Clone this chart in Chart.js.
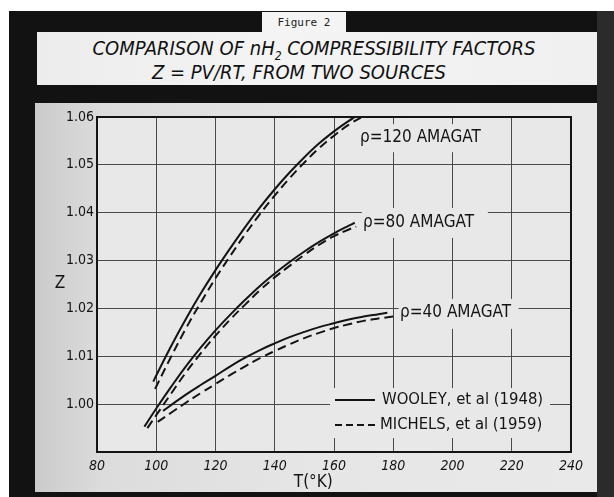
<!DOCTYPE html>
<html lang="en">
<head>
    <meta charset="UTF-8">
    <title>Comparison of nH2 Compressibility Factors</title>
    <script src="https://cdn.jsdelivr.net/npm/chart.js"></script>
    <style>
        body { margin: 0; background: #fff; width: 614px; height: 497px; overflow: hidden; position: relative; }
        #frame { position: absolute; left: 9px; top: 11px; width: 605px; height: 486px; background: #121212; }
        #rightEdge { position: absolute; left: 597px; top: 11px; width: 17px; height: 486px; background: #2b2b2b; }
        #tab { position: absolute; left: 262px; top: 12px; width: 84px; height: 22px; background: #f4f4f4;
               font: 11px "DejaVu Sans Mono", "Liberation Mono", monospace; color: #222; text-align: center; line-height: 22px; }
        #titleBox { position: absolute; left: 37px; top: 32px; width: 560px; height: 53px;
                    background: linear-gradient(90deg, #ececec, #f4f4f4 40%, #f0f0f0); }
        .tline { position: absolute; left: 0; width: 560px; text-align: center; white-space: nowrap;
                 font: italic 20px "DejaVu Sans Condensed", "Liberation Sans", sans-serif; color: #111; }
        .tline sub { font-size: 12px; }
        #panel { position: absolute; left: 35px; top: 103px; width: 562px; height: 389px;
                 background: linear-gradient(90deg, #cbcbcb, #dcdcdc 12%, #e6e6e6 50%, #e9e9e9); }
        canvas { position: absolute; left: 0; top: 0; }
    </style>
</head>
<body>
    <div id="frame"></div>
    <div id="rightEdge"></div>
    <div id="tab">Figure 2</div>
    <div id="titleBox">
        <div class="tline" style="top: 4px; margin-left: -3px;">COMPARISON OF nH<sub>2</sub> COMPRESSIBILITY FACTORS</div>
        <div class="tline" style="top: 28px; margin-left: -18px;">Z = PV/RT, FROM TWO SOURCES</div>
    </div>
    <div id="panel">
        <canvas id="zChart" width="562" height="389"></canvas>
    </div>

    <script>
        // temperatures (K) and compressibility factors
        const wooley120T  = [99.0, 100, 105, 110, 115, 120, 125, 130, 135, 140, 145, 150, 155, 160, 165, 167.5];
        const wooley120Z  = [1.0047, 1.0060, 1.0121, 1.0178, 1.0231, 1.0280, 1.0326, 1.0370, 1.0411, 1.0449,
                             1.0484, 1.0516, 1.0545, 1.0570, 1.0592, 1.0602];
        const michels120T = [99.6, 100, 105, 110, 115, 120, 125, 130, 135, 140, 145, 150, 155, 160, 165, 170];
        const michels120Z = [1.0032, 1.0037, 1.0099, 1.0158, 1.0212, 1.0263, 1.0310, 1.0355, 1.0397, 1.0436,
                             1.0472, 1.0505, 1.0535, 1.0561, 1.0584, 1.0602];

        const wooley80T  = [96, 100, 105, 110, 115, 120, 125, 130, 135, 140, 145, 150, 155, 160, 165, 167];
        const wooley80Z  = [0.9953, 0.9991, 1.0036, 1.0079, 1.0118, 1.0154, 1.0187, 1.0218, 1.0247, 1.0273,
                            1.0297, 1.0319, 1.0339, 1.0357, 1.0373, 1.0379];
        const michels80T = [97, 100, 105, 110, 115, 120, 125, 130, 135, 140, 145, 150, 155, 160, 165, 167.5];
        const michels80Z = [0.9950, 0.9977, 1.0022, 1.0066, 1.0106, 1.0143, 1.0177, 1.0208, 1.0238, 1.0265,
                            1.0289, 1.0312, 1.0333, 1.0351, 1.0365, 1.0371];

        const wooley40T  = [102.3, 105, 110, 115, 120, 125, 130, 135, 140, 145, 150, 155, 160, 165, 170, 175, 178];
        const wooley40Z  = [0.9986, 0.9998, 1.0020, 1.0040, 1.0059, 1.0079, 1.0097, 1.0113, 1.0127, 1.0140,
                            1.0151, 1.0161, 1.0169, 1.0177, 1.0183, 1.0188, 1.0191];
        const michels40T = [100.5, 105, 110, 115, 120, 125, 130, 135, 140, 145, 150, 155, 160, 165, 170, 175, 181.3];
        const michels40Z = [0.9963, 0.9982, 1.0003, 1.0023, 1.0042, 1.0061, 1.0079, 1.0096, 1.0111, 1.0125,
                            1.0138, 1.0149, 1.0159, 1.0167, 1.0174, 1.0179, 1.0184];

        const curveLabels = ['\u03C1=120 AMAGAT', '\u03C1=80 AMAGAT', '\u03C1=40 AMAGAT'];
        const legendLabels = ['WOOLEY, et al (1948)', 'MICHELS, et al (1959)'];

        const ink = '#141414';
        const paper = '#e8e8e8';
        const handFont = '"DejaVu Sans Condensed", "Liberation Sans Narrow", "DejaVu Sans", sans-serif';

        function pts(ts, zs) {
            return ts.map((t, i) => ({ x: t, y: zs[i] }));
        }

        function curve(label, ts, zs, dashed) {
            return {
                label: label,
                data: pts(ts, zs),
                borderColor: ink,
                borderWidth: 2,
                borderDash: dashed ? [9, 5] : [],
                pointRadius: 0,
                fill: false,
                tension: 0.4
            };
        }

        const paperPlugin = {
            id: 'paper',
            beforeDraw(chart) {
                const { ctx, chartArea: a } = chart;
                ctx.save();
                ctx.fillStyle = paper;
                ctx.fillRect(a.left, a.top, a.right - a.left, a.bottom - a.top);
                ctx.restore();
            },
            beforeDatasetsDraw(chart) {
                // blank out grid behind lettering
                const { ctx, chartArea: a } = chart;
                const x = chart.scales.x, y = chart.scales.y;
                ctx.save();
                ctx.fillStyle = paper;
                ctx.fillRect(x.getPixelForValue(168.6), y.getPixelForValue(1.0585), 126, 28);
                ctx.fillRect(x.getPixelForValue(169.4), y.getPixelForValue(1.0410), 126, 30);
                ctx.fillRect(x.getPixelForValue(181.8), y.getPixelForValue(1.0220), 120, 30);
                ctx.fillRect(a.left + 233, a.top + 271, 220, 50);
                ctx.restore();
            },
            afterDraw(chart) {
                const { ctx, chartArea: a } = chart;
                const x = chart.scales.x, y = chart.scales.y;
                ctx.save();
                ctx.fillStyle = ink;
                ctx.textBaseline = 'middle';
                ctx.font = '17px ' + handFont;
                ctx.fillText(curveLabels[0], x.getPixelForValue(168.8), y.getPixelForValue(1.0557));
                ctx.fillText(curveLabels[1], x.getPixelForValue(169.8), y.getPixelForValue(1.0380));
                ctx.fillText(curveLabels[2], x.getPixelForValue(182.3), y.getPixelForValue(1.0191));

                // legend
                ctx.strokeStyle = ink;
                ctx.lineWidth = 2;
                const lx = a.left + 238, ly1 = a.top + 283, ly2 = a.top + 308;
                ctx.beginPath(); ctx.moveTo(lx, ly1); ctx.lineTo(lx + 40, ly1); ctx.stroke();
                ctx.setLineDash([7, 4]);
                ctx.beginPath(); ctx.moveTo(lx, ly2); ctx.lineTo(lx + 42, ly2); ctx.stroke();
                ctx.setLineDash([]);
                ctx.font = '16.5px ' + handFont;
                ctx.fillText(legendLabels[0], lx + 47, ly1);
                ctx.fillText(legendLabels[1], lx + 45, ly2);

                // axis titles
                ctx.textAlign = 'center';
                ctx.font = '17px ' + handFont;
                ctx.fillText('Z', a.left - 37, (a.top + a.bottom) / 2 - 1);
                ctx.fillText('T(\u00B0K)', x.getPixelForValue(153), a.bottom + 31);
                ctx.restore();
            }
        };

        function createChart() {
            const ctx = document.getElementById('zChart').getContext('2d');

            new Chart(ctx, {
                type: 'line',
                data: {
                    datasets: [
                        curve('Wooley 120', wooley120T, wooley120Z, false),
                        curve('Michels 120', michels120T, michels120Z, true),
                        curve('Wooley 80', wooley80T, wooley80Z, false),
                        curve('Michels 80', michels80T, michels80Z, true),
                        curve('Wooley 40', wooley40T, wooley40Z, false),
                        curve('Michels 40', michels40T, michels40Z, true)
                    ]
                },
                options: {
                    responsive: false,
                    animation: false,
                    layout: { padding: { top: 14, right: 26, left: 0, bottom: 0 } },
                    scales: {
                        x: {
                            type: 'linear',
                            min: 80,
                            max: 240,
                            afterFit: s => { s.height = 40; },
                            ticks: {
                                stepSize: 20,
                                color: ink,
                                padding: 6,
                                maxRotation: 0,
                                font: { family: handFont, size: 14, style: 'italic' }
                            },
                            grid: { color: '#4a4a4a', lineWidth: 1, drawTicks: false },
                            border: { color: ink, width: 2 }
                        },
                        y: {
                            min: 0.99,
                            max: 1.06,
                            afterFit: s => { s.width = 62; },
                            ticks: {
                                stepSize: 0.01,
                                color: ink,
                                padding: 3,
                                font: { family: handFont, size: 14 },
                                callback: v => (v < 0.995 ? '' : v.toFixed(2))
                            },
                            grid: { color: '#4a4a4a', lineWidth: 1, drawTicks: false },
                            border: { color: ink, width: 2 }
                        },
                        x2: {
                            type: 'linear', position: 'top', min: 80, max: 240,
                            afterFit: s => { s.height = 0; },
                            ticks: { display: false }, grid: { display: false },
                            border: { color: ink, width: 2 }
                        },
                        y2: {
                            type: 'linear', position: 'right', min: 0.99, max: 1.06,
                            afterFit: s => { s.width = 0; },
                            ticks: { display: false }, grid: { display: false },
                            border: { color: ink, width: 2 }
                        }
                    },
                    plugins: {
                        legend: { display: false },
                        title: { display: false },
                        tooltip: { enabled: false }
                    }
                },
                plugins: [paperPlugin]
            });
        }

        window.onload = createChart;
    </script>
</body>
</html>
